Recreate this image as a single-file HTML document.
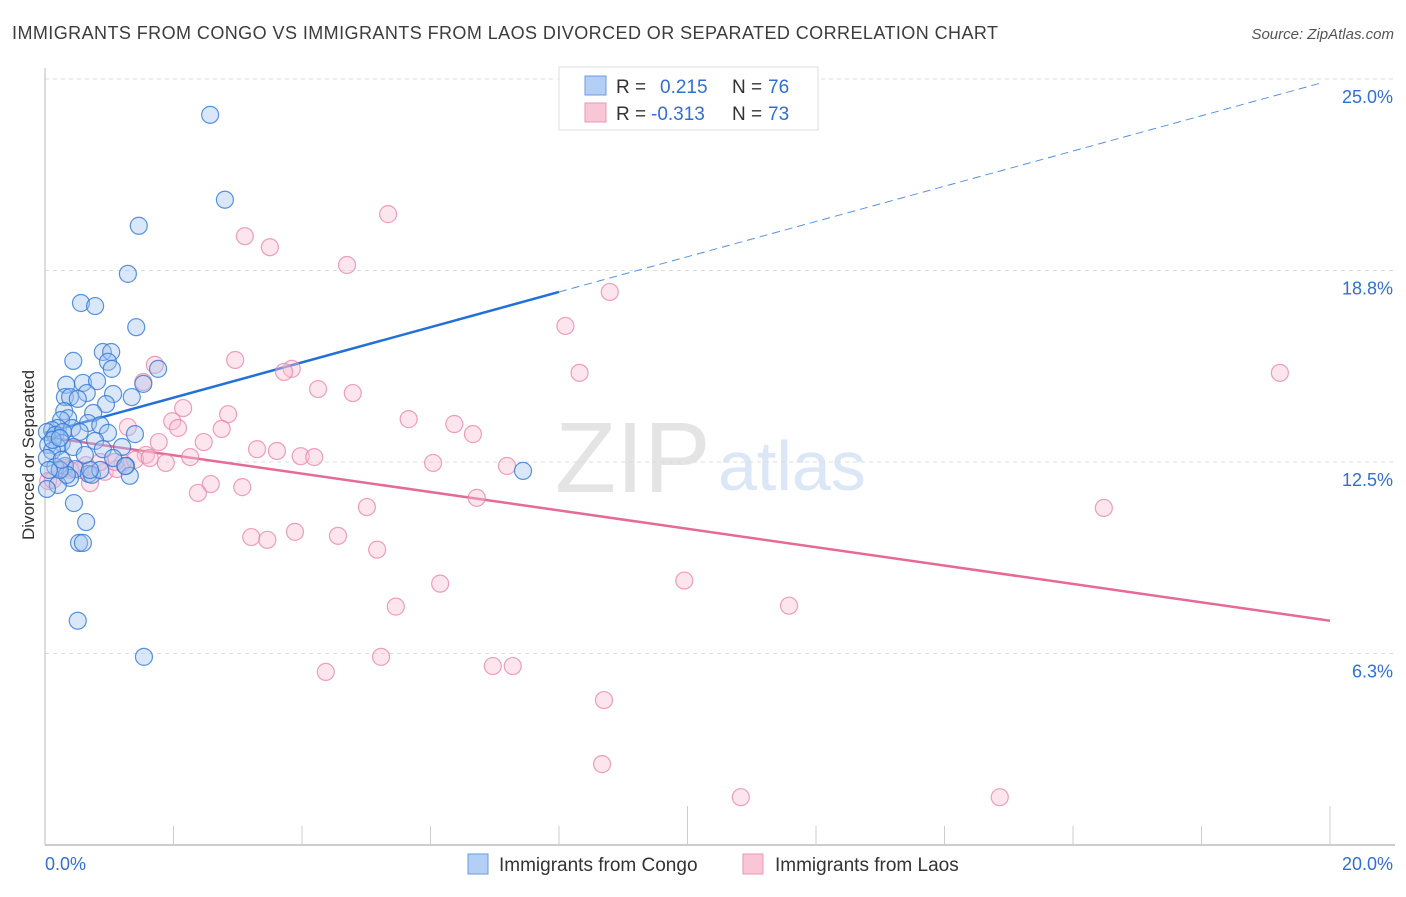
<!DOCTYPE html>
<html><head><meta charset="utf-8">
<style>
body{margin:0;background:#fff;font-family:"Liberation Sans",sans-serif;}
svg text{font-family:"Liberation Sans",sans-serif;}
</style></head>
<body>
<svg id="chart" width="1406" height="892" xmlns="http://www.w3.org/2000/svg">
<text x="12" y="39" font-size="18" textLength="986" fill="#3c3c3c">IMMIGRANTS FROM CONGO VS IMMIGRANTS FROM LAOS DIVORCED OR SEPARATED CORRELATION CHART</text>
<text x="1394" y="39" font-size="15" fill="#555" font-style="italic" text-anchor="end">Source: ZipAtlas.com</text>
<text x="555" y="492" font-size="100" fill="#e4e4e4" font-family="Liberation Serif">ZIP</text>
<text x="718" y="490" font-size="70" fill="#dbe7f6">atlas</text>
<g id="grid"></g>
<g id="axes"></g>
<g id="lines"></g>
<g id="pts"></g>
<text transform="translate(34,455) rotate(-90)" font-size="17" fill="#333" text-anchor="middle">Divorced or Separated</text>
<g>
<rect x="559" y="67" width="259" height="63" fill="#fff" stroke="#ddd"/>
<rect x="585" y="76" width="21" height="19" fill="#b3cff5" stroke="#6b9de0"/>
<rect x="585" y="103" width="21" height="19" fill="#f9c6d6" stroke="#ec97b2"/>
<text x="616" y="93" font-size="19" fill="#333">R =</text>
<text x="660" y="93" font-size="19" fill="#2f6fd6">0.215</text>
<text x="732" y="93" font-size="19" fill="#333">N =</text>
<text x="768" y="93" font-size="19" fill="#2f6fd6">76</text>
<text x="616" y="120" font-size="19" fill="#333">R =</text>
<text x="651" y="120" font-size="19" fill="#2f6fd6">-0.313</text>
<text x="732" y="120" font-size="19" fill="#333">N =</text>
<text x="768" y="120" font-size="19" fill="#2f6fd6">73</text>
</g>
<g>
<rect x="468" y="854" width="20" height="20" fill="#b3cff5" stroke="#6b9de0"/>
<text x="499" y="871" font-size="19" fill="#333">Immigrants from Congo</text>
<rect x="743" y="854" width="20" height="20" fill="#f9c6d6" stroke="#ec97b2"/>
<text x="775" y="871" font-size="19" fill="#333">Immigrants from Laos</text>
</g>
</svg>
<script>
const yTicks=[25.0,18.8,12.5,6.3];
const yTickVals=[25,18.75,12.5,6.25];
const xTickLabels=["0.0%","20.0%"];
const congoX=[2.57,2.80,1.46,1.29,0.56,0.78,1.42,0.44,0.90,1.03,0.98,1.04,1.76,1.53,0.33,0.59,0.81,0.65,1.06,1.35,0.31,0.39,0.51,0.95,0.30,0.75,0.36,0.25,0.67,0.86,0.20,0.42,0.11,0.03,0.16,0.28,0.54,0.98,1.40,0.78,0.26,0.05,0.19,0.90,1.20,0.44,0.11,0.03,0.31,0.16,0.47,0.68,1.26,1.32,0.73,0.39,0.20,0.03,0.45,0.64,0.53,0.59,0.51,1.54,7.44,0.34,0.23,0.86,0.06,1.06,0.26,1.25,0.70,0.12,0.62,0.23];
const congoY=[23.83,21.06,20.21,18.64,17.69,17.59,16.90,15.80,16.09,16.09,15.77,15.54,15.54,15.05,15.02,15.08,15.14,14.75,14.72,14.62,14.62,14.62,14.56,14.39,14.16,14.10,13.93,13.87,13.77,13.70,13.61,13.61,13.54,13.48,13.38,13.48,13.48,13.45,13.41,13.19,13.12,13.06,13.00,12.92,12.99,12.99,12.86,12.63,12.37,12.34,12.27,12.11,12.37,12.05,12.08,11.98,11.75,11.62,11.16,10.54,9.86,9.86,7.32,6.14,12.21,12.08,12.24,12.24,12.24,12.63,12.57,12.37,12.24,13.22,12.73,13.28];
const laosX=[5.34,3.11,3.50,4.70,8.79,8.10,2.96,3.84,3.72,1.71,1.53,2.15,19.22,8.32,4.25,4.79,2.85,1.98,2.07,2.75,5.66,6.37,6.66,2.47,1.77,1.29,3.30,3.61,1.57,2.26,3.98,4.19,6.04,7.19,1.88,1.21,0.64,0.31,0.23,0.39,0.93,1.12,1.09,0.05,0.70,2.38,2.58,3.07,6.72,5.01,16.48,3.21,3.46,3.89,4.56,5.17,6.15,9.95,5.46,11.58,5.23,4.37,6.97,7.28,8.70,8.67,10.83,14.86,0.12,0.54,0.86,1.40,1.63];
const laosY=[20.59,19.87,19.51,18.93,18.05,16.94,15.83,15.54,15.44,15.67,15.11,14.26,15.41,15.41,14.88,14.75,14.06,13.83,13.61,13.58,13.90,13.74,13.41,13.15,13.15,13.64,12.92,12.86,12.73,12.66,12.69,12.66,12.47,12.37,12.47,12.47,12.40,12.30,12.27,12.24,12.18,12.27,12.50,11.88,11.81,11.49,11.78,11.68,11.33,11.03,11.00,10.05,9.96,10.22,10.09,9.64,8.53,8.63,7.78,7.81,6.14,5.65,5.84,5.84,4.73,2.64,1.56,1.56,11.91,12.24,12.50,12.57,12.63];
const congoTrend=[13.45,0.575]; // intercept, slope per %
const laosTrend=[13.32,-0.300];
const NS="http://www.w3.org/2000/svg";
const X=v=>45+v/20*1285, Y=v=>79+(25-v)*30.64;
function mk(tag,attrs,parent){const e=document.createElementNS(NS,tag);for(const k in attrs)e.setAttribute(k,attrs[k]);parent.appendChild(e);return e;}
const grid=document.getElementById('grid'),axes=document.getElementById('axes'),lines=document.getElementById('lines'),pts=document.getElementById('pts');
yTickVals.forEach((v,i)=>{
 const l=mk('line',{x1:45,x2:1395,y1:Y(v),y2:Y(v),stroke:'#ddd','stroke-dasharray':'4,4'},grid);
 
 
 const t=mk('text',{x:1393,y:Y(v)+24,'font-size':18,fill:'#2f6fd6','text-anchor':'end'},grid);
 t.textContent=yTicks[i].toFixed(1)+'%';
 
 
});
const ax=mk('line',{x1:45,x2:1395,y1:845,y2:845,stroke:'#bbb','stroke-width':1.5},axes);


const ay=mk('line',{x1:45,x2:45,y1:68,y2:845,stroke:'#bbb'},axes);


for(let i=1;i<=10;i++){const tk=mk('line',{x1:X(i*2),x2:X(i*2),y1:(i==5||i==10)?806:826,y2:845,stroke:'#ccc'},axes);
 
 }
const xl0=mk('text',{x:45,y:870,'font-size':18,fill:'#2f6fd6'},axes);xl0.textContent=xTickLabels[0];


const xl1=mk('text',{x:1393,y:870,'font-size':18,fill:'#2f6fd6','text-anchor':'end'},axes);xl1.textContent=xTickLabels[1];


function add(xs,ys,fill,stroke,name){xs.forEach((x,i)=>{const c=mk('circle',{cx:X(x),cy:Y(ys[i]),r:8.5,fill:fill,stroke:stroke,'stroke-width':1.2},pts);
 
 });}
add(laosX,laosY,'rgba(249,190,210,0.4)','rgba(232,130,165,0.75)','laos-point');
add(congoX,congoY,'rgba(160,195,240,0.4)','rgba(50,120,215,0.8)','congo-point');
const tv=(t,x)=>t[0]+t[1]*x;
const b1=mk('line',{x1:X(0),y1:Y(tv(congoTrend,0)),x2:X(8),y2:Y(tv(congoTrend,8)),stroke:'#2270d8','stroke-width':2.5},lines);


const b2=mk('line',{x1:X(8),y1:Y(tv(congoTrend,8)),x2:X(19.9),y2:Y(tv(congoTrend,19.9)),stroke:'#5a90dd','stroke-width':1,'stroke-dasharray':'8,5'},lines);


const p1=mk('line',{x1:X(0),y1:Y(tv(laosTrend,0)),x2:X(20),y2:Y(tv(laosTrend,20)),stroke:'#e46a98','stroke-width':2.5},lines);


</script>
</body></html>
